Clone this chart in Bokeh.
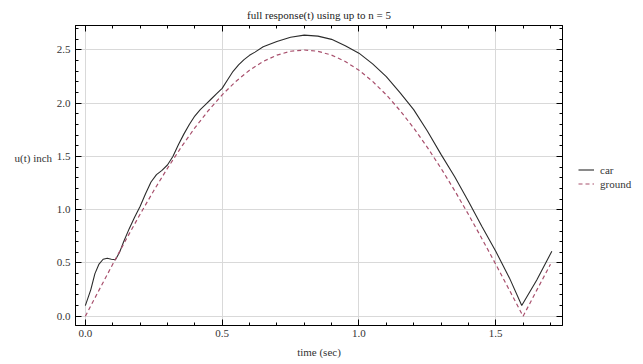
from bokeh.plotting import figure
from bokeh.layouts import row
from bokeh.models import (Range1d, LinearAxis, Legend, LegendItem, Grid, Label,
                          FixedTicker, Title, NumeralTickFormatter)
from bokeh.embed import file_html
from bokeh.resources import INLINE

# ---- data ----
car_t = [0.0, 0.02, 0.035, 0.05, 0.065, 0.08, 0.095, 0.11, 0.125, 0.14, 0.16,
         0.18, 0.20, 0.22, 0.24, 0.26, 0.28, 0.30, 0.32, 0.34, 0.36, 0.38,
         0.40, 0.42, 0.44, 0.46, 0.48, 0.50, 0.52, 0.54, 0.56, 0.58, 0.60,
         0.62, 0.65, 0.70, 0.75, 0.80, 0.85, 0.90, 0.95, 1.00, 1.05, 1.10,
         1.15, 1.20, 1.25, 1.30, 1.35, 1.40, 1.45, 1.50, 1.55, 1.595, 1.65,
         1.705]
car_u = [0.10, 0.25, 0.40, 0.49, 0.535, 0.545, 0.535, 0.53, 0.60, 0.70, 0.82,
         0.93, 1.03, 1.15, 1.26, 1.33, 1.37, 1.42, 1.50, 1.61, 1.71, 1.80,
         1.88, 1.94, 1.99, 2.04, 2.09, 2.14, 2.22, 2.30, 2.36, 2.41, 2.45,
         2.48, 2.53, 2.58, 2.62, 2.64, 2.63, 2.60, 2.54, 2.47, 2.37, 2.25,
         2.10, 1.94, 1.74, 1.52, 1.31, 1.08, 0.84, 0.61, 0.36, 0.10, 0.34,
         0.61]

ground_t = [0.0, 0.05, 0.10, 0.15, 0.20, 0.25, 0.30, 0.35, 0.40, 0.45, 0.50,
            0.55, 0.60, 0.65, 0.70, 0.75, 0.80, 0.85, 0.90, 0.95, 1.00, 1.05,
            1.10, 1.15, 1.20, 1.25, 1.30, 1.35, 1.40, 1.45, 1.50, 1.55, 1.60,
            1.65, 1.70]
ground_u = [0.0, 0.245, 0.488, 0.726, 0.957, 1.179, 1.389, 1.586, 1.768,
            1.932, 2.079, 2.205, 2.310, 2.392, 2.452, 2.488, 2.50, 2.488,
            2.452, 2.392, 2.310, 2.205, 2.079, 1.932, 1.768, 1.586, 1.389,
            1.179, 0.957, 0.726, 0.488, 0.245, 0.0, 0.245, 0.488]

x_ticks = [0.0, 0.5, 1.0, 1.5]
y_ticks = [0.0, 0.5, 1.0, 1.5, 2.0, 2.5]
x_minor = [round(0.1 * i, 1) for i in range(0, 18)]
y_minor = [round(0.1 * i, 1) for i in range(0, 28)]

title_text = "full response(t) using up to n = 5"
x_label = "time (sec)"
y_label = "u(t) inch"
series_names = ["car", "ground"]

FONT = "Liberation Serif"
TXT = "#333333"
CAR_COLOR = "#2b2b2b"
GROUND_COLOR = "#a8506d"
H = 364

# ---- left strip holding the horizontal y-axis label ----
lf = figure(width=53, height=H, output_backend="svg", toolbar_location=None,
            x_range=Range1d(0, 1), y_range=Range1d(0, 1),
            x_axis_type=None, y_axis_type=None, min_border=0)
lf.outline_line_color = None
lf.xgrid.visible = False
lf.ygrid.visible = False
lf.add_layout(Label(x=14, y=168, x_units="screen", y_units="screen",
                    text=y_label, text_font=FONT, text_font_size="11px",
                    text_color=TXT, text_align="left",
                    text_baseline="middle"))

# ---- main plot ----
p = figure(width=525, height=H, output_backend="svg", toolbar_location=None,
           x_range=Range1d(-0.036, 1.744), y_range=Range1d(-0.087, 2.73),
           x_axis_type=None, y_axis_type=None,
           min_border_left=22, min_border_right=16, min_border_top=25,
           min_border_bottom=39)
p.outline_line_color = "black"
p.outline_line_width = 1
p.background_fill_color = "white"
p.border_fill_color = "white"

axes = {}
for side in ["below", "above", "left", "right"]:
    if side in ("below", "above"):
        tk = FixedTicker(ticks=x_ticks, minor_ticks=x_minor)
    else:
        tk = FixedTicker(ticks=y_ticks, minor_ticks=y_minor)
    ax = LinearAxis(ticker=tk, formatter=NumeralTickFormatter(format="0.0"))
    ax.axis_line_color = "black"
    ax.major_tick_line_color = "black"
    ax.minor_tick_line_color = "black"
    ax.major_tick_in = 6
    ax.major_tick_out = 0
    ax.minor_tick_in = 3
    ax.minor_tick_out = 0
    ax.major_label_text_font = FONT
    ax.major_label_text_font_size = "11px"
    ax.major_label_text_color = TXT
    if side in ("above", "right"):
        ax.major_label_text_font_size = "0px"
        ax.major_label_text_alpha = 0
        ax.major_label_standoff = 0
    p.add_layout(ax, side)
    axes[side] = ax

axes["below"].major_label_standoff = 4
axes["left"].major_label_standoff = 5
axes["below"].axis_label = x_label
axes["below"].axis_label_text_font = FONT
axes["below"].axis_label_text_font_style = "normal"
axes["below"].axis_label_text_font_size = "11px"
axes["below"].axis_label_text_color = TXT
axes["below"].axis_label_standoff = 6

p.add_layout(Grid(dimension=0, ticker=FixedTicker(ticks=x_ticks),
                  grid_line_color="#d9d9d9", grid_line_width=1))
p.add_layout(Grid(dimension=1, ticker=FixedTicker(ticks=y_ticks),
                  grid_line_color="#d9d9d9", grid_line_width=1))

p.line(car_t, car_u, line_color=CAR_COLOR, line_width=1.1)
p.line(ground_t, ground_u, line_color=GROUND_COLOR, line_width=1.2,
       line_dash="4 3")

p.title = Title(text=title_text, align="center", text_font=FONT,
                text_font_size="11px", text_font_style="normal",
                text_color="#222222", offset=0, standoff=9)

# ---- legend in a narrow side figure (series drawn off-range, only the
#      legend glyphs are visible) ----
lg = figure(width=65, height=H, output_backend="svg", toolbar_location=None,
            x_range=Range1d(10, 11), y_range=Range1d(10, 11),
            x_axis_type=None, y_axis_type=None, min_border=0)
lg.outline_line_color = None
lg.xgrid.visible = False
lg.ygrid.visible = False
lg_car = lg.line(car_t, car_u, line_color=CAR_COLOR, line_width=1.1)
lg_ground = lg.line(ground_t, ground_u, line_color=GROUND_COLOR,
                    line_width=1.2, line_dash="4 3")
legend = Legend(items=[LegendItem(label=series_names[0], renderers=[lg_car]),
                       LegendItem(label=series_names[1], renderers=[lg_ground])],
                location=(0, 135), padding=0, margin=0, spacing=1,
                glyph_width=16, glyph_height=13, label_height=13,
                label_standoff=6, border_line_alpha=0,
                background_fill_alpha=0,
                label_text_font=FONT, label_text_font_size="11px",
                label_text_color=TXT)
lg.add_layout(legend, "center")

layout = row(lf, p, lg)
open("out.html", "w").write(file_html(layout, INLINE))
